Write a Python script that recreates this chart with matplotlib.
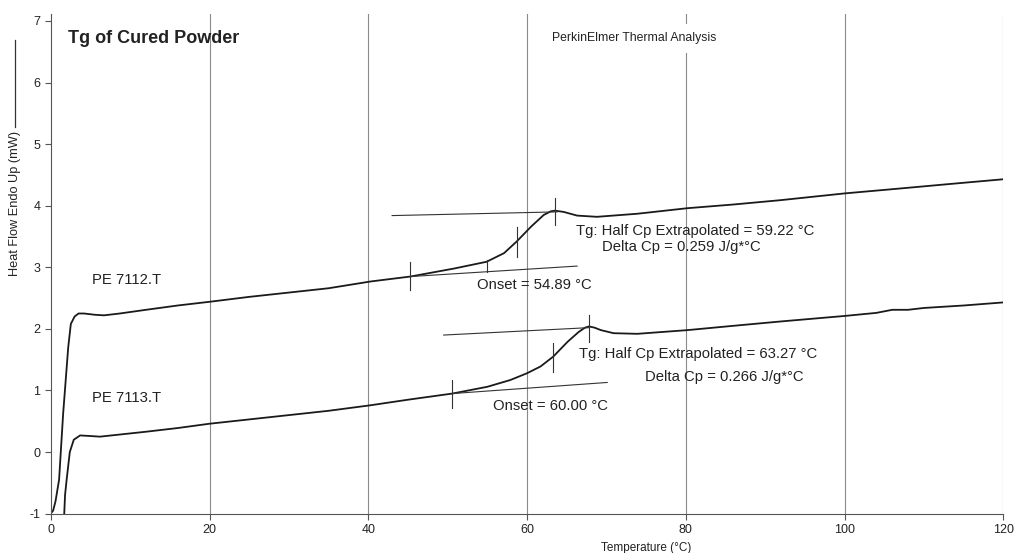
import matplotlib
matplotlib.use('Agg')
import matplotlib.pyplot as plt
from matplotlib.lines import Line2D

plt.rcParams['font.family'] = ['Liberation Sans', 'DejaVu Sans']
plt.rcParams['axes.unicode_minus'] = False

# PE 7112.T heat flow curve
temp_7112 = [0.0, 0.3, 0.6, 1.05, 1.56, 2.2, 2.53, 3.0, 3.5, 4.2, 5.5, 6.7, 8.7, 12, 16, 20,
             25, 30, 35, 40.3, 45.3, 50.8, 54.9, 57.1, 58.7, 60.5, 62.1, 63.0, 63.5, 64.6,
             66.3, 68.8, 73.9, 80.2, 86, 91.9, 100, 107, 113, 120]
hf_7112 = [-1.0, -0.95, -0.8, -0.45, 0.62, 1.70, 2.08, 2.20, 2.25, 2.25, 2.23, 2.22, 2.25, 2.31,
           2.38, 2.44, 2.52, 2.59, 2.66, 2.77, 2.85, 2.98, 3.09, 3.23, 3.42, 3.66, 3.85, 3.91,
           3.92, 3.90, 3.84, 3.82, 3.87, 3.96, 4.02, 4.09, 4.20, 4.28, 4.35, 4.43]

# PE 7113.T heat flow curve
temp_7113 = [1.7, 1.8, 2.0, 2.4, 2.9, 3.7, 5.0, 6.2, 9.1, 12, 16, 20, 25, 30, 35, 40.3, 45,
             50.6, 55.0, 57.9, 60.0, 61.7, 63.3, 65.1, 66.5, 67.3, 67.8, 68.5, 69.3, 70.9,
             73.9, 80.2, 86, 91.9, 100, 104, 106, 108, 110, 115, 120]
hf_7113 = [-1.0, -0.7, -0.45, 0.0, 0.2, 0.27, 0.26, 0.25, 0.29, 0.33, 0.39, 0.46, 0.53, 0.60,
           0.67, 0.76, 0.85, 0.95, 1.06, 1.17, 1.28, 1.39, 1.55, 1.79, 1.95, 2.02, 2.04, 2.02,
           1.98, 1.93, 1.92, 1.98, 2.05, 2.12, 2.21, 2.26, 2.31, 2.31, 2.34, 2.38, 2.43]

# tangent lines used for the Tg analysis: (x0, y0, x1, y1)
tangents_7112 = [(43.0, 3.84, 63.8, 3.90), (45.3, 2.85, 66.3, 3.02)]
tangents_7113 = [(49.5, 1.90, 67.8, 2.02), (50.6, 0.95, 70.1, 1.13)]
# small vertical markers: (x, y_low, y_high)
marks_7112 = [(45.3, 2.63, 3.09), (54.9, 2.93, 3.12), (58.7, 3.17, 3.66), (63.5, 3.69, 4.12)]
marks_7113 = [(50.6, 0.71, 1.17), (63.3, 1.30, 1.77), (67.8, 1.79, 2.22)]

x_ticks = [0, 20, 40, 60, 80, 100, 120]
y_ticks = [-1, 0, 1, 2, 3, 4, 5, 6, 7]

fig = plt.figure(figsize=(10.17, 5.53), dpi=100)
ax = fig.add_axes([0.0499, 0.0712, 0.9367, 0.9042])

for x in x_ticks[1:]:
    ax.axvline(x, color='#8a8a8a', lw=0.8, zorder=0)

ax.plot(temp_7112, hf_7112, color='#1a1a1a', lw=1.3)
ax.plot(temp_7113, hf_7113, color='#1a1a1a', lw=1.3)

for x0, y0, x1, y1 in tangents_7112 + tangents_7113:
    ax.plot([x0, x1], [y0, y1], color='#333333', lw=0.8)
for x, ylo, yhi in marks_7112 + marks_7113:
    ax.plot([x, x], [ylo, yhi], color='#333333', lw=0.8)

ax.set_xlim(0, 120)
ax.set_ylim(-1, 7.12)
ax.set_xticks(x_ticks)
ax.set_yticks(y_ticks)
ax.tick_params(labelsize=9, length=4, width=0.8, color='#555555', labelcolor='#222222')
for s in ['top', 'right']:
    ax.spines[s].set_visible(False)
for s in ['left', 'bottom']:
    ax.spines[s].set_color('#555555')
    ax.spines[s].set_linewidth(0.8)

ax.text(2.2, 6.72, 'Tg of Cured Powder', fontsize=13, fontweight='bold', color='#222222',
        va='center', ha='left', family=['Liberation Sans Narrow', 'Liberation Sans'])
ax.text(63.2, 6.72, 'PerkinElmer Thermal Analysis', fontsize=8.8, color='#222222',
        va='center', ha='left', bbox=dict(facecolor='white', edgecolor='none', pad=6))

txt = dict(fontsize=10.7, color='#222222', va='center', ha='left')
ax.text(5.2, 2.79, 'PE 7112.T', **txt)
ax.text(5.2, 0.88, 'PE 7113.T', **txt)
ax.text(66.2, 3.59, 'Tg: Half Cp Extrapolated = 59.22 \u00b0C', **txt)
ax.text(69.5, 3.33, 'Delta Cp = 0.259 J/g*\u00b0C', **txt)
ax.text(53.7, 2.71, 'Onset = 54.89 \u00b0C', **txt)
ax.text(66.5, 1.59, 'Tg: Half Cp Extrapolated = 63.27 \u00b0C', **txt)
ax.text(74.8, 1.22, 'Delta Cp = 0.266 J/g*\u00b0C', **txt)
ax.text(55.7, 0.75, 'Onset = 60.00 \u00b0C', **txt)

fig.text(646 / 1017, 1 - 548 / 553, 'Temperature (\u00b0C)', fontsize=8.5, color='#222222',
         ha='center', va='center')
fig.text(15 / 1017, 1 - 203 / 553, 'Heat Flow Endo Up (mW)', fontsize=9.2, color='#222222',
         ha='center', va='center', rotation=90)
fig.add_artist(Line2D([15 / 1017, 15 / 1017], [1 - 127 / 553, 1 - 40 / 553],
                      color='#333333', lw=0.9))

fig.savefig('out.png', dpi=100)
